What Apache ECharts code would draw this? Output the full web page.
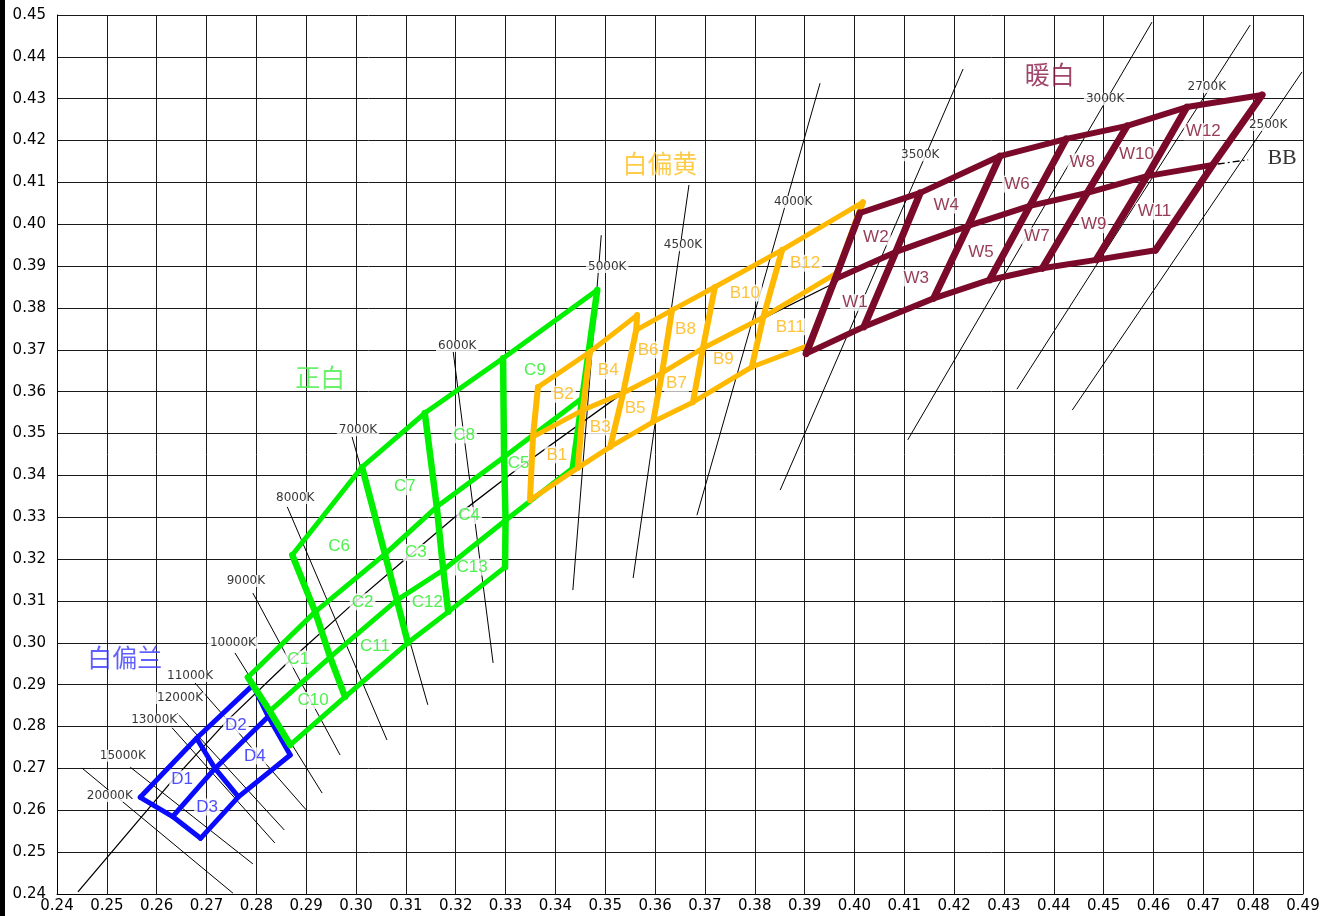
<!DOCTYPE html>
<html><head><meta charset="utf-8">
<script src="https://cdn.jsdelivr.net/npm/echarts@6/dist/echarts.min.js"></script>
<style>html,body{margin:0;padding:0;background:#fff}#c{width:1329px;height:916px}</style>
</head><body><div id="c"></div>
<script>
// axis ranges
const xRange = [0.24, 0.49];
const yRange = [0.24, 0.45];
const tickStep = 0.01;

// bin vertex grids (rows x columns), [x, y] chromaticity
const blueGrid = [
  [[0.2567,0.2631],[0.2680,0.2772],[0.2793,0.2899]],
  [[0.2632,0.2585],[0.2717,0.2700],[0.2824,0.2824]],
  [[0.2688,0.2533],[0.2764,0.2632],[0.2868,0.2732]]
];
const greenGrid = [
  [[0.2868,0.2756],[0.2978,0.2871],[0.3104,0.3000],[0.3185,0.3074],[0.3299,0.3181],null],
  [[0.2827,0.2837],[0.2948,0.2966],[0.3082,0.3102],[0.3175,0.3174],[0.3300,0.3293],[0.3435,0.3418]],
  [[0.2783,0.2918],[0.2918,0.3074],[0.3058,0.3212],[0.3162,0.3325],[0.3297,0.3444],[0.3454,0.3585]],
  [null,[0.2872,0.3210],[0.3012,0.3420],[0.3138,0.3549],[0.3295,0.3680],[0.3484,0.3843]]
];
const orangeGrid = [
  [[0.3365,0.3611],[0.3469,0.3695],[0.3564,0.3783],null,null,null,null],
  [null,null,[0.3562,0.3747],[0.3634,0.3795],[0.3720,0.3850],[0.3855,0.3939],[0.4017,0.4053]],
  [[0.3355,0.3492],[0.3455,0.3556],[0.3536,0.3597],[0.3614,0.3645],[0.3696,0.3704],[0.3817,0.3778],[0.3965,0.3884]],
  [[0.3349,0.3341],[0.3445,0.3418],[0.3510,0.3468],[0.3596,0.3528],[0.3676,0.3575],[0.3794,0.3659],[0.3911,0.3712]]
];
const wineGrid = [
  [[0.4011,0.4027],[0.4132,0.4075],[0.4292,0.4163],[0.4425,0.4204],[0.4547,0.4235],[0.4667,0.4280],[0.4818,0.4309]],
  [[0.3961,0.3869],[0.4083,0.3934],[0.4228,0.3996],[0.4352,0.4044],[0.4467,0.4075],[0.4587,0.4115],[0.4719,0.4142]],
  [[0.3903,0.3691],[0.4019,0.3755],[0.4159,0.3823],[0.4271,0.3867],[0.4377,0.3895],[0.4485,0.3915],[0.4604,0.3938]]
];

// bin labels [name, x, y]
const blueLabels = [['D1',0.2651,0.2675],['D2',0.2759,0.2804],['D3',0.2701,0.2608],['D4',0.2797,0.2730]];
const greenLabels = [['C1',0.2884,0.2961],['C2',0.3013,0.3098],['C3',0.3120,0.3216],['C4',0.3227,0.3304],['C5',0.3326,0.3430],['C6',0.2966,0.3230],['C7',0.3098,0.3373],['C8',0.3217,0.3497],['C9',0.3359,0.3650],['C10',0.2914,0.2862],['C11',0.3038,0.2991],['C12',0.3143,0.3097],['C13',0.3233,0.3181]];
const orangeLabels = [['B1',0.3403,0.3449],['B2',0.3416,0.3594],['B3',0.3490,0.3516],['B4',0.3506,0.3650],['B5',0.3560,0.3560],['B6',0.3586,0.3700],['B7',0.3643,0.3620],['B8',0.3661,0.3749],['B9',0.3737,0.3677],['B10',0.3780,0.3836],['B11',0.3871,0.3755],['B12',0.3901,0.3907]];
const wineLabels = [['W1',0.4001,0.3813],['W2',0.4043,0.3970],['W3',0.4124,0.3872],['W4',0.4184,0.4046],['W5',0.4254,0.3934],['W6',0.4326,0.4096],['W7',0.4366,0.3972],['W8',0.4457,0.4149],['W9',0.4480,0.3999],['W10',0.4566,0.4167],['W11',0.4602,0.4031],['W12',0.4700,0.4221]];

// isotherms
const cctNames = ['20000K','15000K','13000K','12000K','11000K','10000K','9000K','8000K','7000K','6000K','5000K','4500K','4000K','3500K','3000K','2700K','2500K'];
const cctLines = [
  [[0.2450,0.2701],[0.2753,0.2402]],
  [[0.2547,0.2703],[0.2793,0.2472]],
  [[0.2631,0.2797],[0.2837,0.2522]],
  [[0.2641,0.2832],[0.2856,0.2553]],
  [[0.2677,0.2904],[0.2900,0.2601]],
  [[0.2757,0.2976],[0.2932,0.2641]],
  [[0.2793,0.3119],[0.2968,0.2732]],
  [[0.2862,0.3325],[0.3062,0.2768]],
  [[0.2992,0.3492],[0.3144,0.2852]],
  [[0.3195,0.3695],[0.3275,0.2952]],
  [[0.3492,0.3974],[0.3435,0.3126]],
  [[0.3668,0.4094],[0.3556,0.3155]],
  [[0.3931,0.4337],[0.3684,0.3305]],
  [[0.4218,0.4371],[0.3851,0.3365]],
  [[0.4597,0.4483],[0.4107,0.3485]],
  [[0.4794,0.4476],[0.4326,0.3606]],
  [[0.4898,0.4364],[0.4437,0.3556]]
];
const cctLabelPos = [[0.2506,0.2634],[0.2532,0.2730],[0.2595,0.2816],[0.2647,0.2868],[0.2667,0.2921],[0.2753,0.3000],[0.2779,0.3148],[0.2878,0.3346],[0.3004,0.3508],[0.3203,0.3709],[0.3504,0.3898],[0.3656,0.3950],[0.3877,0.4053],[0.4132,0.4165],[0.4503,0.4299],[0.4707,0.4328],[0.4830,0.4237]];

// black body locus
const bbCurve = [[0.2442,0.2405],[0.2627,0.2665],[0.2743,0.2816],[0.2862,0.2952],[0.2984,0.3083],[0.3092,0.3193],[0.3199,0.3301],[0.3321,0.3413],[0.3524,0.3587],[0.3730,0.3724],[0.3967,0.3864]];
const bbTail = [[0.4729,0.4144],[0.4790,0.4154]];
const bbLabel = ['BB', 0.4858, 0.4158];

// group names
const groupNames = ['白偏兰','正白','白偏黄','暖白'];
const groupPos = [[0.2536,0.2964],[0.2928,0.3633],[0.3610,0.4146],[0.4392,0.4357]];
const groupColors = ['#3a3aff','#44ee44','#ffbf1a','#8a1846'];

function rowLines(grid){
  return grid.map(r => r.filter(v => v)).filter(p => p.length > 1).map(p => ({coords:p}));
}
function colLines(grid){
  const out = [];
  const nc = Math.max(...grid.map(r => r.length));
  for (let c = 0; c < nc; c++) {
    const p = grid.map(r => r[c]).filter(v => v);
    if (p.length > 1) out.push({coords: p});
  }
  return out;
}
function binSeries(data, color, width){
  return {type:'lines', coordinateSystem:'cartesian2d', polyline:true, silent:true, animation:false, z:5,
    data: data,
    lineStyle:{color:color, width:width, opacity:1, cap:'round', join:'round'}};
}
function labelSeries(arr, color, size, family, z){
  return {type:'scatter', symbolSize:1, silent:true, animation:false, z:z||4,
    itemStyle:{color:'rgba(0,0,0,0)'},
    data: arr.map(a => ({name:a[0], value:[a[1], a[2]]})),
    label:{show:true, position:'inside', formatter:'{b}', color:color, fontSize:size, fontFamily:family,
      backgroundColor:'#fff', padding:[0,2]}};
}

const chart = echarts.init(document.getElementById('c'), null, {renderer:'canvas'});
const axisCommon = {
  type:'value', interval:tickStep,
  axisLine:{show:true, lineStyle:{color:'#000', width:1}},
  axisTick:{show:false},
  splitLine:{show:true, lineStyle:{color:'#1a1a1a', width:1}},
  axisLabel:{color:'#000', fontSize:15, fontFamily:'DejaVu Sans', formatter: v => v.toFixed(2)}
};
chart.setOption({
  animation:false,
  backgroundColor:'#fff',
  grid:{left:57, right:26, top:15, bottom:22, containLabel:false},
  xAxis: Object.assign({}, axisCommon, {min:xRange[0], max:xRange[1], axisLabel:Object.assign({}, axisCommon.axisLabel, {margin:5})}),
  yAxis: Object.assign({}, axisCommon, {min:yRange[0], max:yRange[1], axisLabel:Object.assign({}, axisCommon.axisLabel, {margin:11})}),
  graphic:[{type:'rect', left:0, top:0, shape:{width:5, height:916}, style:{fill:'#000'}, silent:true}],
  series:[
    {type:'lines', coordinateSystem:'cartesian2d', polyline:false, silent:true, animation:false, z:2,
      data: cctLines.map(l => ({coords:l})), lineStyle:{color:'#000', width:1, opacity:1}},
    {type:'lines', coordinateSystem:'cartesian2d', polyline:true, silent:true, animation:false, z:2,
      data:[{coords:bbCurve}], lineStyle:{color:'#000', width:1.3, opacity:1}},
    {type:'lines', coordinateSystem:'cartesian2d', polyline:true, silent:true, animation:false, z:2,
      data:[{coords:bbTail}], lineStyle:{color:'#000', width:1.3, opacity:1, type:[7,3,2,3]}},
    labelSeries(cctNames.map((n,i) => [n, cctLabelPos[i][0], cctLabelPos[i][1]]), '#000', 12, 'DejaVu Sans', 3),
    labelSeries([bbLabel], '#000', 22, 'Liberation Serif', 3),
    labelSeries(blueLabels, '#2020ff', 17, 'Liberation Sans'),
    labelSeries(greenLabels, '#22ee22', 17, 'Liberation Sans'),
    labelSeries(orangeLabels, '#ffb40a', 17, 'Liberation Sans'),
    labelSeries(wineLabels, '#7a0a2a', 17, 'Liberation Sans'),
    {type:'scatter', symbolSize:1, silent:true, animation:false, z:4, itemStyle:{color:'rgba(0,0,0,0)'},
      data: groupNames.map((n,i) => ({name:n, value:groupPos[i], label:{color:groupColors[i]}})),
      label:{show:true, position:'inside', formatter:'{b}', fontSize:25, fontFamily:'Noto Sans CJK SC'}},
    binSeries(rowLines(blueGrid), '#0a0aff', 5),
    binSeries(colLines(blueGrid), '#0a0aff', 5),
    binSeries(rowLines(greenGrid), '#00f000', 5),
    binSeries(colLines(greenGrid), '#00f000', 6.5),
    binSeries(rowLines(orangeGrid), '#ffb900', 5),
    binSeries(colLines(orangeGrid), '#ffb900', 6),
    binSeries(rowLines(wineGrid), '#7b0a2a', 6),
    binSeries(colLines(wineGrid), '#7b0a2a', 7)
  ]
});
</script></body></html>
